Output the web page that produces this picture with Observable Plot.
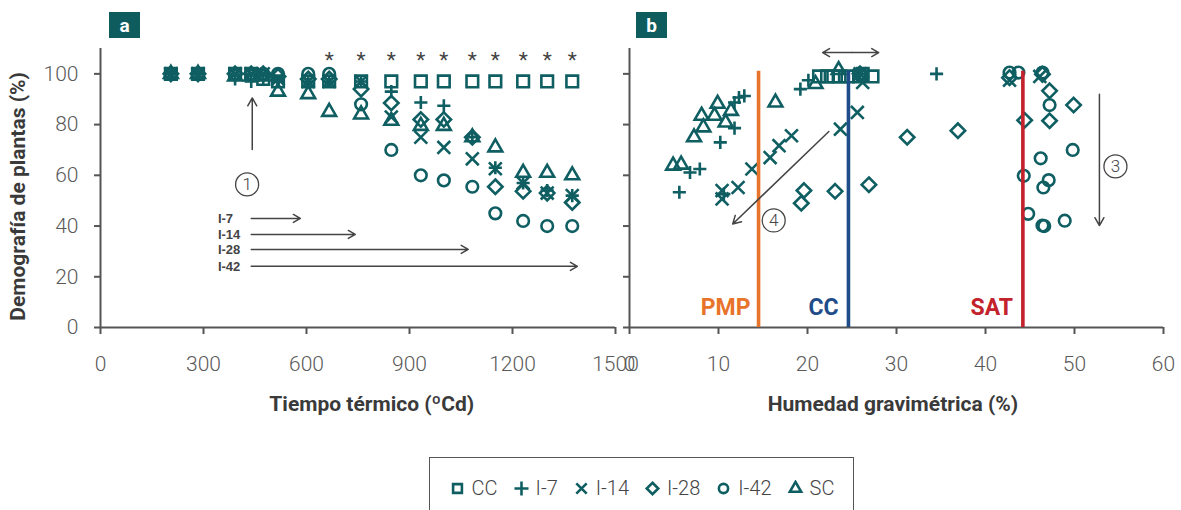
<!DOCTYPE html>
<html><head><meta charset="utf-8">
<script src="https://cdn.jsdelivr.net/npm/d3@7"></script>
<script src="https://cdn.jsdelivr.net/npm/@observablehq/plot@0.6"></script>
<style>
body{margin:0;background:#fff;}
#root{position:relative;width:1181px;height:510px;overflow:hidden;font-family:Roboto,sans-serif;}
.pl{position:absolute;top:0;}
.tag{position:absolute;top:12px;width:31px;height:26px;background:#0e5c5e;color:#fff;font:bold 19px Roboto,sans-serif;display:flex;align-items:center;justify-content:center;}
#legend{position:absolute;left:429px;top:457px;width:425px;height:70px;border:1.5px solid #555;box-sizing:border-box;display:flex;justify-content:center;align-items:flex-start;padding-top:18px;gap:15px;font:300 20px Roboto,sans-serif;color:#444;}
#legend .it{display:flex;align-items:center;gap:6px;}
</style></head><body><div id="root"></div>
<script>
const teal = "#0f5e62";
const ink = "#444";

// ---------- shared series ----------
const seriesNames = ["CC", "I-7", "I-14", "I-28", "I-42", "SC"];
const symbolNames = ["square2", "plus", "times", "diamond2", "circle", "triangle2"];
const symbolRadius = [7.4, 4.3, 5.9, 6.5, 5.8, 6.6];

// ---------- panel a : thermal time (ºCd) vs plant demography (%) ----------
const thermalTime = [205, 284, 392, 439, 474, 517, 605, 666, 759, 847, 933, 1000, 1083, 1150, 1231, 1301, 1374];
const demoCC  = [100, 100, 100, 100, 98, 97, 97, 97, 97, 97, 97, 97, 97, 97, 97, 97, 97];
const demoI7  = [100, 100, 98, 97, 98, 97, 97, 97, 97, 93, 88.7, 87.4, 75, 63, 57, 54, 52];
const demoI14 = [100, 100, 100, 100, 100, 98, 97, 97, 97, 83, 75, 71, 66.5, 62.6, 57, 53, 52];
const demoI28 = [100, 100, 100, 100, 100, 99, 98, 98, 94, 88.5, 82, 82, 75, 55.5, 53.7, 53, 49.3];
const demoI42 = [100, 100, 100, 100, 100, 100, 100, 100, 88, 70, 60, 58, 55.5, 45, 42, 40, 40];
const demoSC  = [100, 100, 99, 99, 99, 93, 92, 85, 84, 81.5, 79.5, 79.5, 75, 71, 61, 61, 60];
const demoA = [demoCC, demoI7, demoI14, demoI28, demoI42, demoSC];
const starTimes = [666, 759, 847, 933, 1000, 1083, 1150, 1231, 1301, 1374];

const irrigLabels = ["I-7", "I-14", "I-28", "I-42"];
const irrigY = [43, 36.7, 30.8, 24.1];
const irrigEnd = [582, 742, 1071, 1389];
const irrigStart = 439;
const xTicksA = [0, 300, 600, 900, 1200, 1500];
const yTicks = [0, 20, 40, 60, 80, 100];

// ---------- panel b : gravimetric moisture (%) vs plant demography (%) ----------
const moistCCx  = [21.3, 22.2, 22.9, 23.6, 24.5, 25.8, 26.2, 27.3];
const moistCCy  = [99, 99, 99, 99, 99, 99, 100, 99];
const moistI7x  = [5.6, 6.8, 7.9, 10.2, 11.8, 11.8, 12.3, 12.9, 19.2, 20.1, 34.5, 10.6, 25.9];
const moistI7y  = [53.3, 61.1, 62.5, 73, 78.6, 88.7, 90.7, 91.3, 94, 97.5, 100, 52.6, 100];
const moistI14x = [10.4, 10.4, 12.2, 13.75, 15.8, 16.8, 18.2, 23.7, 25.6, 26.2, 42.7, 46.1, 25.9];
const moistI14y = [50.7, 54, 55.2, 62.5, 67, 71.7, 75.6, 78.2, 84.8, 96.6, 97.5, 99, 100];
const moistI28x = [19.3, 19.6, 23.1, 26.9, 31.2, 36.9, 44.4, 47.2, 47.2, 49.9, 42.7, 46.4, 25.9];
const moistI28y = [49, 54, 53.7, 56.3, 75, 77.6, 81.7, 81.5, 93.3, 87.7, 98.5, 99.8, 100];
const moistI42x = [42.7, 43.7, 46.4, 47.2, 49.8, 46.2, 44.3, 47.1, 46.5, 44.8, 46.4, 46.6, 48.9];
const moistI42y = [100.5, 100.5, 100.5, 87.7, 70, 66.7, 59.8, 58.1, 55.2, 44.8, 40.2, 40, 42.1];
const moistSCx  = [4.9, 5.8, 7.25, 8.1, 8.3, 9.55, 9.9, 10.8, 11.4, 16.4, 20.9, 23.5];
const moistSCy  = [63.8, 64.2, 75, 83.5, 78.9, 83.5, 88.2, 80.8, 85.4, 88.7, 96, 101.5];
const moistX = [moistCCx, moistI7x, moistI14x, moistI28x, moistI42x, moistSCx];
const moistY = [moistCCy, moistI7y, moistI14y, moistI28y, moistI42y, moistSCy];

const thrLabels = ["PMP", "CC", "SAT"];
const thrValues = [14.5, 24.6, 44.2];
const thrColors = ["#e8732a", "#1f4d89", "#c3212b"];
const thrLabelX = [10.8, 21.8, 40.7];
const xTicksB = [0, 10, 20, 30, 40, 50, 60];

const root = document.getElementById("root");
const baseStyle = {fontFamily: "Roboto, sans-serif", background: "transparent", overflow: "visible", color: "#555"};

function axes(xTicks, showY, xMax) {
  return [
    Plot.axisX({ticks: xTicks, tickSize: 7, tickPadding: 22, fontSize: 21, fontWeight: 300, strokeWidth: 2, label: null, fill: "#5a5a5a", stroke: "#555",
      tickFormat: d => String(d)}),
    Plot.axisY({ticks: yTicks, tickSize: 6, tickPadding: 16, fontSize: 21, fontWeight: 300, strokeWidth: 2, label: null, fill: "#5a5a5a", stroke: "#555",
      tickFormat: showY ? (d => String(d)) : (() => "")}),
    Plot.ruleX([0], {y1: 0, y2: 110, stroke: "#555", strokeWidth: 2}),
    Plot.ruleY([0], {x1: 0, x2: xMax, stroke: "#555", strokeWidth: 2})
  ];
}

function circled(x, y, label) {
  return [
    Plot.dot([{x, y}], {x: "x", y: "y", r: 11.5, stroke: ink, strokeWidth: 1.3, fill: "white"}),
    Plot.text([{x, y, label}], {x: "x", y: "y", text: "label", fontSize: 17, fontWeight: 300, fill: ink})
  ];
}

// ---- panel a ----
const dotsA = seriesNames.map((s, k) => Plot.dot(thermalTime.map((t, i) => ({t, v: demoA[k][i]})), {
  x: "t", y: "v", symbol: symbolNames[k], r: symbolRadius[k], stroke: teal, strokeWidth: 2.6, fill: "none"
}));

const plotA = Plot.plot({
  width: 620, height: 420,
  marginLeft: 100, marginRight: 5, marginTop: 48, marginBottom: 93,
  x: {domain: [0, 1500]}, y: {domain: [0, 110]},
  style: baseStyle,
  marks: [
    ...axes(xTicksA, true, 1500),
    ...dotsA,
    Plot.text(starTimes, {x: d => d, y: 105.5, text: () => "*", fontSize: 21, fill: ink}),
    Plot.arrow([{x: 442}], {x1: "x", x2: "x", y1: 70.2, y2: 90.5, stroke: ink, strokeWidth: 1.5, headLength: 9}),
    ...circled(427, 56.4, "1"),
    Plot.text(irrigLabels, {x: 342, y: (d, i) => irrigY[i], text: d => d, textAnchor: "start", fontSize: 13, fontWeight: "bold", fontFamily: "Liberation Sans, Arial, sans-serif", fill: ink}),
    Plot.arrow(irrigLabels, {x1: irrigStart, x2: (d, i) => irrigEnd[i], y1: (d, i) => irrigY[i], y2: (d, i) => irrigY[i], stroke: ink, strokeWidth: 1.5, headLength: 8}),
    Plot.text(["Tiempo térmico (ºCd)"], {x: 790, y: -30.3, text: d => d, fontSize: 21, fontWeight: "bold", fill: "#3a3a3a"}),
    Plot.text(["Demografía de plantas (%)"], {x: -240, y: 51.7, rotate: -90, text: d => d, fontSize: 21, fontWeight: "bold", fill: "#3a3a3a"})
  ]
});
plotA.classList.add("pl");
plotA.style.left = "0px";
root.appendChild(plotA);

// ---- panel b ----
const dotsB = seriesNames.map((s, k) => Plot.dot(moistX[k].map((x, i) => ({x, v: moistY[k][i]})), {
  x: "x", y: "v", symbol: symbolNames[k], r: symbolRadius[k], stroke: teal, strokeWidth: 2.6, fill: "none"
}));

const plotB = Plot.plot({
  width: 561, height: 420,
  marginLeft: 9, marginRight: 18, marginTop: 48, marginBottom: 93,
  x: {domain: [0, 60]}, y: {domain: [0, 110]},
  style: baseStyle,
  marks: [
    ...axes(xTicksB, false, 60),
    ...dotsB,
    Plot.ruleX(thrLabels, {x: (d, i) => thrValues[i], y1: 0, y2: 101, stroke: (d, i) => thrColors[i], strokeWidth: 3.6}),
    Plot.text(thrLabels, {x: (d, i) => thrLabelX[i], y: 7.8, text: d => d, fill: (d, i) => thrColors[i], fontSize: 23, fontWeight: "bold"}),
    Plot.arrow([{a: 25}], {x1: 25, x2: 21.7, y1: 108.4, y2: 108.4, stroke: ink, strokeWidth: 1.5, headLength: 8}),
    Plot.arrow([{a: 25}], {x1: 25, x2: 28.0, y1: 108.4, y2: 108.4, stroke: ink, strokeWidth: 1.5, headLength: 8}),
    Plot.arrow([{a: 1}], {x1: 22.4, y1: 77.3, x2: 11.6, y2: 40.8, stroke: ink, strokeWidth: 1.5, headLength: 9}),
    Plot.arrow([{a: 1}], {x1: 52.8, y1: 92, x2: 52.8, y2: 40.2, stroke: ink, strokeWidth: 1.5, headLength: 9}),
    ...circled(16.2, 42.2, "4"),
    ...circled(54.6, 63.5, "3"),
    Plot.text(["Humedad gravimétrica (%)"], {x: 29.6, y: -30.3, text: d => d, fontSize: 21, fontWeight: "bold", fill: "#3a3a3a"})
  ]
});
plotB.classList.add("pl");
plotB.style.left = "620px";
root.appendChild(plotB);

// ---- panel tags ----
[["a", 109], ["b", 636]].forEach(([t, l]) => {
  const d = document.createElement("div");
  d.className = "tag"; d.style.left = l + "px"; d.textContent = t;
  root.appendChild(d);
});

// ---- legend ----
const legend = document.createElement("div");
legend.id = "legend";
const symMap = {square2: d3.symbolSquare2, plus: d3.symbolPlus, times: d3.symbolTimes, diamond2: d3.symbolDiamond2, circle: d3.symbolCircle, triangle2: d3.symbolTriangle2};
const legendRadius = [5.6, 4.6, 4.8, 5.2, 4.6, 5.4];
seriesNames.forEach((s, k) => {
  const it = document.createElement("div");
  it.className = "it";
  const svg = d3.create("svg").attr("width", 17).attr("height", 17);
  const rr = legendRadius[k];
  svg.append("path").attr("transform", "translate(8.5,8.5)")
    .attr("d", d3.symbol(symMap[symbolNames[k]], Math.PI * rr * rr)())
    .attr("fill", "none").attr("stroke", teal).attr("stroke-width", 2.6);
  it.appendChild(svg.node());
  const sp = document.createElement("span");
  sp.textContent = s;
  it.appendChild(sp);
  legend.appendChild(it);
});
root.appendChild(legend);
</script></body></html>
